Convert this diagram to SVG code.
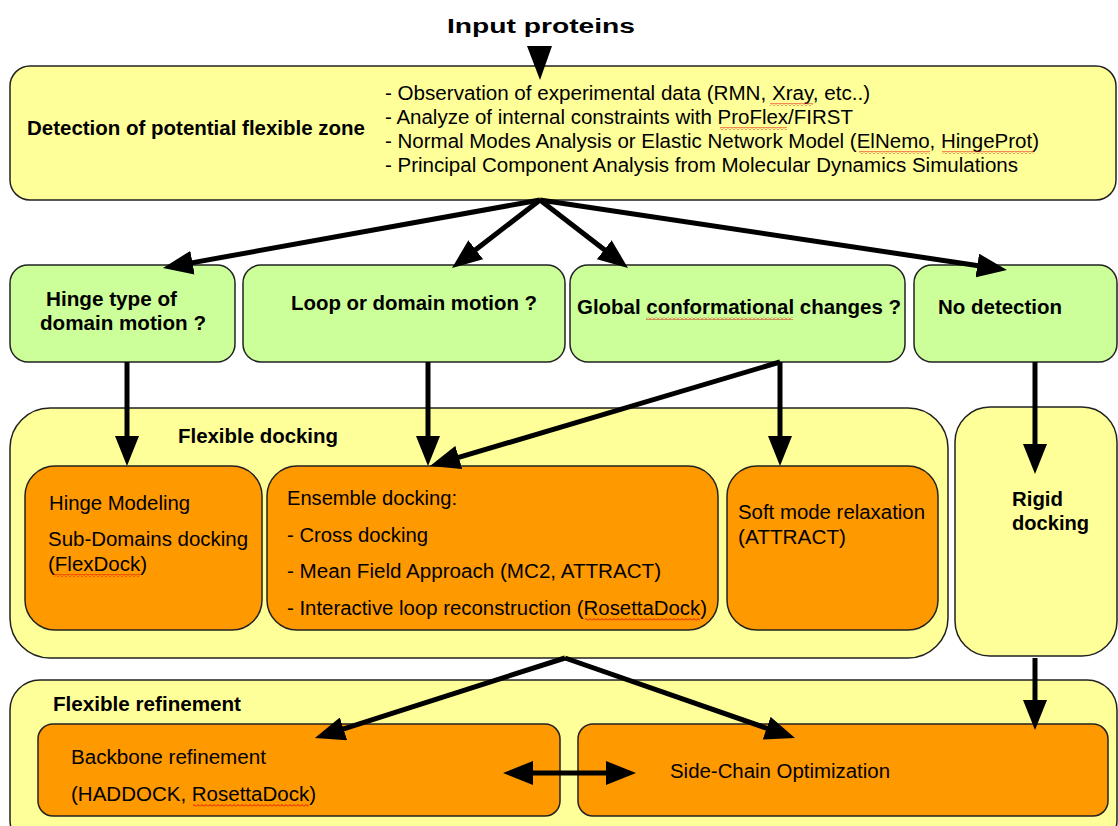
<svg xmlns="http://www.w3.org/2000/svg" width="1118" height="826" viewBox="0 0 1118 826">
<style>
.t { font-family: "Liberation Sans", Arial, sans-serif; font-size: 20px; fill: #000; }
.b { font-weight: bold; }
.yel { fill: #ffff99; stroke: #222; stroke-width: 1.5; }
.grn { fill: #ccff99; stroke: #222; stroke-width: 1.5; }
.org { fill: #ff9900; stroke: #222; stroke-width: 1.5; }
.conn { stroke: #000; stroke-width: 5; fill: none; marker-end: url(#ah); }
.wave { fill: url(#wave); }
</style>
<defs>
<marker id="ah" viewBox="0 0 30 24" refX="8" refY="12" markerWidth="30" markerHeight="24" markerUnits="userSpaceOnUse" orient="auto-start-reverse">
<path d="M0,0 L30,12 L0,24 z" fill="#000"/>
</marker>
<pattern id="wave" width="4" height="3" patternUnits="userSpaceOnUse">
<polyline points="0,2.5 2,0.5 4,2.5" fill="none" stroke="#e00000" stroke-width="0.9"/>
</pattern>
</defs>
<rect width="1118" height="826" fill="#fff"/>

<g id="title">
<text class="t b" x="541" y="33" font-size="27" text-anchor="middle" textLength="188" lengthAdjust="spacingAndGlyphs">Input proteins</text>
</g>

<g id="detection">
<rect class="yel" x="10" y="66" width="1106" height="134" rx="20"/>
<text class="t b" x="27" y="135" textLength="338" lengthAdjust="spacingAndGlyphs">Detection of potential flexible zone</text>
<text class="t" x="385" y="100" textLength="485" lengthAdjust="spacingAndGlyphs">- Observation of experimental data (RMN, Xray, etc..)</text>
<text class="t" x="385" y="123.5" textLength="468" lengthAdjust="spacingAndGlyphs">- Analyze of internal constraints with ProFlex/FIRST</text>
<text class="t" x="385" y="147.5" textLength="654" lengthAdjust="spacingAndGlyphs">- Normal Modes Analysis or Elastic Network Model (ElNemo, HingeProt)</text>
<text class="t" x="385" y="171.5" textLength="633" lengthAdjust="spacingAndGlyphs">- Principal Component Analysis from Molecular Dynamics Simulations</text>
<rect class="wave" x="770" y="103" width="43" height="3"/>
<rect class="wave" x="720" y="127" width="67" height="3"/>
<rect class="wave" x="859" y="151" width="71" height="3"/>
<rect class="wave" x="942" y="151" width="92" height="3"/>
</g>

<g id="hinge-type">
<rect class="grn" x="10" y="265" width="225" height="97" rx="18"/>
<text class="t b" x="46" y="306" textLength="131" lengthAdjust="spacingAndGlyphs">Hinge type of</text>
<text class="t b" x="40" y="330" textLength="166" lengthAdjust="spacingAndGlyphs">domain motion ?</text>
</g>
<g id="loop-domain">
<rect class="grn" x="243" y="265" width="322" height="97" rx="18"/>
<text class="t b" x="291" y="310" textLength="246" lengthAdjust="spacingAndGlyphs">Loop or domain motion ?</text>
</g>
<g id="global-changes">
<rect class="grn" x="570" y="265" width="335" height="97" rx="18"/>
<text class="t b" x="577" y="314" textLength="324" lengthAdjust="spacingAndGlyphs">Global conformational changes ?</text>
<rect class="wave" x="646" y="317" width="147" height="3"/>
</g>
<g id="no-detection">
<rect class="grn" x="914" y="265" width="203" height="97" rx="18"/>
<text class="t b" x="938" y="314" textLength="124" lengthAdjust="spacingAndGlyphs">No detection</text>
</g>

<g id="flexible-docking">
<rect class="yel" x="10" y="408" width="938" height="250" rx="40"/>
<text class="t b" x="178" y="443" textLength="160" lengthAdjust="spacingAndGlyphs">Flexible docking</text>
</g>
<g id="hinge-modeling">
<rect class="org" x="25" y="466" width="237" height="164" rx="30"/>
<text class="t" x="49" y="510" textLength="141" lengthAdjust="spacingAndGlyphs">Hinge Modeling</text>
<text class="t" x="48" y="546" textLength="200" lengthAdjust="spacingAndGlyphs">Sub-Domains docking</text>
<text class="t" x="48" y="571" textLength="99" lengthAdjust="spacingAndGlyphs">(FlexDock)</text>
<rect class="wave" x="54" y="574" width="86" height="3"/>
</g>
<g id="ensemble-docking">
<rect class="org" x="267" y="466" width="451" height="164" rx="30"/>
<text class="t" x="287" y="505" textLength="170" lengthAdjust="spacingAndGlyphs">Ensemble docking:</text>
<text class="t" x="287" y="542" textLength="141" lengthAdjust="spacingAndGlyphs">- Cross docking</text>
<text class="t" x="287" y="578" textLength="374" lengthAdjust="spacingAndGlyphs">- Mean Field Approach (MC2, ATTRACT)</text>
<text class="t" x="287" y="615" textLength="420" lengthAdjust="spacingAndGlyphs">- Interactive loop reconstruction (RosettaDock)</text>
<rect class="wave" x="585" y="618" width="115" height="3"/>
</g>
<g id="soft-mode">
<rect class="org" x="727" y="466" width="211" height="164" rx="30"/>
<text class="t" x="738" y="519" textLength="187" lengthAdjust="spacingAndGlyphs">Soft mode relaxation</text>
<text class="t" x="738" y="544" textLength="108" lengthAdjust="spacingAndGlyphs">(ATTRACT)</text>
</g>
<g id="rigid-docking">
<rect class="yel" x="955" y="407" width="162" height="249" rx="35"/>
<text class="t b" x="1012" y="506" textLength="51" lengthAdjust="spacingAndGlyphs">Rigid</text>
<text class="t b" x="1012" y="530" textLength="77" lengthAdjust="spacingAndGlyphs">docking</text>
</g>

<g id="flexible-refinement">
<rect class="yel" x="10" y="680" width="1107" height="170" rx="30"/>
<text class="t b" x="53" y="711" textLength="188" lengthAdjust="spacingAndGlyphs">Flexible refinement</text>
</g>
<g id="backbone-refinement">
<rect class="org" x="38" y="724" width="522" height="92" rx="15"/>
<text class="t" x="71" y="764" textLength="195" lengthAdjust="spacingAndGlyphs">Backbone refinement</text>
<text class="t" x="71" y="801" textLength="245" lengthAdjust="spacingAndGlyphs">(HADDOCK, RosettaDock)</text>
<rect class="wave" x="193" y="804" width="116" height="3"/>
</g>
<g id="side-chain">
<rect class="org" x="578" y="724" width="530" height="92" rx="15"/>
<text class="t" x="670" y="778" textLength="220" lengthAdjust="spacingAndGlyphs">Side-Chain Optimization</text>
</g>

<g id="connectors">
<path d="M527,46 L552,46 L540,80 z" fill="#000"/>
<line class="conn" x1="540" y1="200" x2="184.6" y2="264.1"/>
<line class="conn" x1="540" y1="200" x2="469.4" y2="254.6"/>
<line class="conn" x1="540" y1="200" x2="610.6" y2="254.6"/>
<line class="conn" x1="540" y1="200" x2="985.2" y2="266.7"/>
<line class="conn" x1="127" y1="362" x2="127" y2="444"/>
<line class="conn" x1="428" y1="362" x2="428" y2="444"/>
<line class="conn" x1="780" y1="362" x2="780" y2="444"/>
<line class="conn" x1="780" y1="362" x2="451.1" y2="459.7"/>
<line class="conn" x1="1035" y1="362" x2="1035" y2="452"/>
<line class="conn" x1="565" y1="658" x2="335.9" y2="731.3"/>
<line class="conn" x1="565" y1="658" x2="774.2" y2="730.8"/>
<line class="conn" x1="1035" y1="658" x2="1035" y2="708"/>
<line class="conn" x1="525" y1="773" x2="614" y2="773" marker-start="url(#ah)"/>
</g>
</svg>
